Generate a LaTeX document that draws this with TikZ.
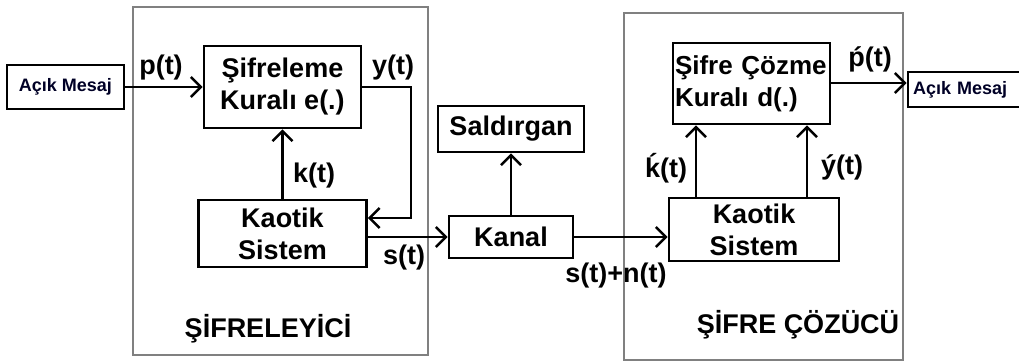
\documentclass[tikz,border=0pt]{standalone}
\usepackage{fontspec}
\setmainfont{Liberation Sans}
\usetikzlibrary{arrows.meta}
\begin{document}
\begin{tikzpicture}[x=1pt,y=-1pt,
  blk/.style={draw,line width=2.6pt,rectangle,inner sep=0pt,align=center,font=\bfseries\fontsize{27}{32}\selectfont},
  msg/.style={draw,line width=2.6pt,rectangle,inner sep=0pt,font=\bfseries\fontsize{18}{20}\selectfont,text=black!85!blue},
  grp/.style={draw=black!50,line width=1.6pt},
  lbl/.style={anchor=base,inner sep=0pt,font=\bfseries\fontsize{27}{30}\selectfont},
  con/.style={line width=2.6pt,-{Straight Barb[length=10pt,width=20pt,line width=2.6pt]}},
  wire/.style={line width=2.6pt}]
\useasboundingbox (0,0) rectangle (1019,363);
\fill[white] (0,0) rectangle (1019,363);
% group frames
\draw[grp] (133,7) rectangle (428,355);
\draw[grp] (624,13) rectangle (903,360);
% blocks
\node[msg,minimum width=117pt,minimum height=44pt] (am1) at (65.5,87) {Açık Mesaj};
\node[blk,minimum width=157pt,minimum height=82pt] (sk) at (282.5,87) {Şifreleme\\Kuralı e(.)};
\node[blk,minimum width=168pt,minimum height=67pt] (ks1) at (282.5,233.5) {Kaotik\\Sistem};
\node[blk,minimum width=124pt,minimum height=42pt] (kanal) at (511,237) {Kanal};
\node[blk,minimum width=146pt,minimum height=46pt] (sald) at (511,129) {Saldırgan};
\node[blk,minimum width=170pt,minimum height=63pt] (ks2) at (754,229.5) {Kaotik\\Sistem};
\node[blk,minimum width=157pt,minimum height=81pt,text width=153pt,align=left,font=\bfseries\fontsize{26}{32}\selectfont] (sc) at (751.5,83.5) {Şifre Çözme\\Kuralı d(.)};
\node[msg,minimum width=118pt,minimum height=35pt,text width=108pt,align=left] (am2) at (967,89.5) {Açık Mesaj};
% connectors
\coordinate (yl) at (411,218);
\draw[con] (am1.east) -- (sk.west);
\draw[con] (sk.east) -| (yl) -- (yl -| ks1.east);
\draw[con] (ks1.north) -- (sk.south);
\draw[con] (ks1.east |- kanal.west) -- (kanal.west);
\draw[con] (kanal.north) -- (sald.south);
\draw[con] (kanal.east) -- (ks2.west |- kanal.east);
\coordinate (kk) at (696,0);
\coordinate (yy) at (807,0);
\draw[con] (kk |- ks2.north) -- (kk |- sc.south);
\draw[con] (yy |- ks2.north) -- (yy |- sc.south);
\draw[con] (sc.east |- 0,83) -- (am2.west |- 0,83);
% labels
\node[lbl] (lp) at (161,75) {p(t)};
\node[lbl] (ly) at (393,75) {y(t)};
\node[lbl] (lk) at (314,183) {k(t)};
\node[lbl] (ls) at (404,265) {s(t)};
\node[lbl] (lsn) at (616,282) {s(t)+n(t)};
\node[lbl] (lk2) at (666,178) {ḱ(t)};
\node[lbl] (ly2) at (842,175) {ý(t)};
\node[lbl] (lp2) at (870,67) {ṕ(t)};
\node[lbl] (g1) at (268,337) {ŞİFRELEYİCİ};
\node[lbl] (g2) at (798,333) {ŞİFRE ÇÖZÜCÜ};
\end{tikzpicture}
\end{document}
